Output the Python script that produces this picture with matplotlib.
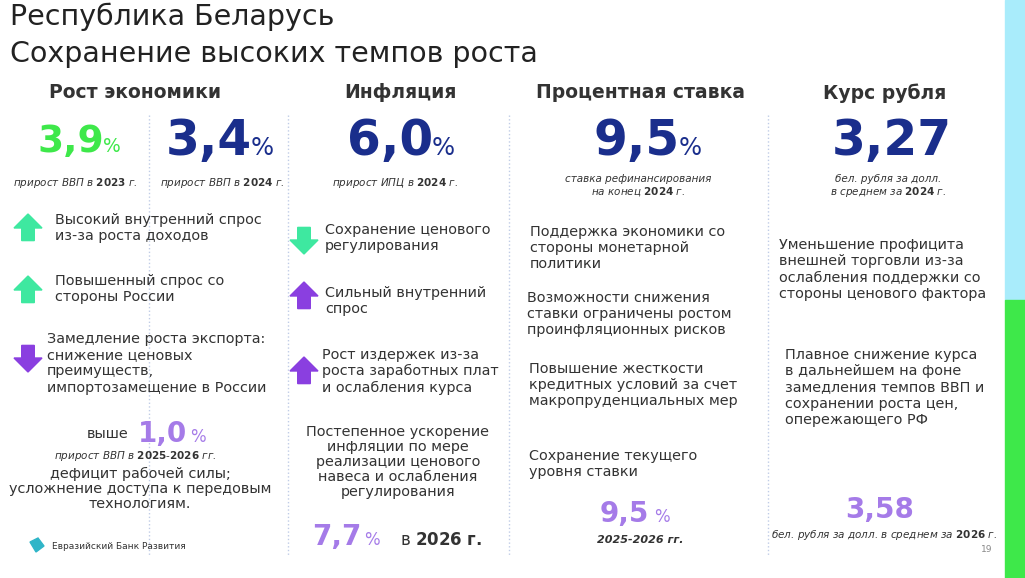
import matplotlib
matplotlib.use("Agg")
import matplotlib.pyplot as plt
from matplotlib.patches import Polygon, Rectangle
from matplotlib.lines import Line2D

W, H = 1025, 578
BLUE = "#1a2e8c"; GREEN = "#3ee84a"; PURPLE = "#a57be8"; ARROWP = "#8a3fe0"; GRAY = "#333333"
BS = 10.4

title_lines = ["Республика Беларусь", "Сохранение высоких темпов роста"]
headers = ["Рост экономики", "Инфляция", "Процентная ставка", "Курс рубля"]
gdp_growth = [3.9, 3.4]
gdp_years = ["2023", "2024"]
cpi_2024 = 6.0
rate_2024 = 9.5
usd_2024 = 3.27
gdp_2025_26 = 1.0
cpi_2026 = 7.7
rate_2025_26 = 9.5
usd_2026 = 3.58

fig = plt.figure(figsize=(W/100, H/100), dpi=100)
fig.patch.set_facecolor("white")

def T(x, y, s, size=BS, color=GRAY, ha="left", va="top", weight="normal", style="normal", ls=1.2):
    fig.text(x/W, 1-y/H, s, fontsize=size, color=color, ha=ha, va=va, weight=weight,
             style=style, linespacing=ls, family="DejaVu Sans")

def fmt(v, d=1):
    return f"{v:.{d}f}".replace(".", ",")

fig.add_artist(Rectangle((1005/W, 1-300/H), 20/W, 300/H, transform=fig.transFigure, color="#a9ecfb"))
fig.add_artist(Rectangle((1005/W, 0), 20/W, 278/H, transform=fig.transFigure, color=GREEN))

T(10, 3, title_lines[0], size=20.5, color="#222222")
T(10, 40, title_lines[1], size=20.5, color="#222222")

for x, h in zip([135, 400, 640, 885], headers):
    T(x, 83, h, size=13.5, color=GRAY, ha="center", weight="bold")

for x in [149, 288, 509, 768]:
    fig.add_artist(Line2D([x/W, x/W], [1-115/H, 1-555/H], transform=fig.transFigure,
                          color="#c0cce6", lw=1, ls=":"))

def big(x, y, v, unit, size, color, d=1):
    fig.text(x/W, 1-y/H, fmt(v, d), fontsize=size, color=color, ha="right", va="baseline", weight="bold")
    if unit:
        fig.text((x-1)/W, 1-y/H, unit, fontsize=size*0.5, color=color, ha="left", va="baseline")

big(104, 152, gdp_growth[0], "%", 27, GREEN)
big(252, 155, gdp_growth[1], "%", 35, BLUE)
big(433, 155, cpi_2024, "%", 35, BLUE)
big(680, 155, rate_2024, "%", 35, BLUE)
big(952, 155, usd_2024, None, 35, BLUE, d=2)

T(75, 176, f"прирост ВВП в $\\bf{{{gdp_years[0]}}}$ г.", size=7.5, ha="center", style="italic")
T(222, 176, f"прирост ВВП в $\\bf{{{gdp_years[1]}}}$ г.", size=7.5, ha="center", style="italic")
T(395, 176, "прирост ИПЦ в $\\bf{2024}$ г.", size=7.5, ha="center", style="italic")
T(638, 174, "ставка рефинансирования\nна конец $\\bf{2024}$ г.", size=7.5, ha="center", style="italic", ls=1.1)
T(888, 174, "бел. рубля за долл.\nв среднем за $\\bf{2024}$ г.", size=7.5, ha="center", style="italic", ls=1.1)

def arrow(cx, cy, up, color):
    s = 14
    if up:
        pts = [(cx, cy-s), (cx+s, cy), (cx+s*0.45, cy), (cx+s*0.45, cy+s*0.9),
               (cx-s*0.45, cy+s*0.9), (cx-s*0.45, cy), (cx-s, cy)]
    else:
        pts = [(cx, cy+s), (cx+s, cy), (cx+s*0.45, cy), (cx+s*0.45, cy-s*0.9),
               (cx-s*0.45, cy-s*0.9), (cx-s*0.45, cy), (cx-s, cy)]
    fig.add_artist(Polygon([(px/W, 1-py/H) for px, py in pts], closed=True,
                           transform=fig.transFigure, color=color))

arrow(28, 228, True, "#3ee8a0")
T(55, 213, "Высокий внутренний спрос\nиз-за роста доходов")
arrow(28, 290, True, "#3ee8a0")
T(55, 274, "Повышенный спрос со\nстороны России")
arrow(28, 358, False, ARROWP)
T(47, 332, "Замедление роста экспорта:\nснижение ценовых\nпреимуществ,\nимпортозамещение в России")
T(128, 427, "выше", ha="right")
fig.text(138/W, 1-442/H, fmt(gdp_2025_26), fontsize=20, color=PURPLE, weight="bold", va="baseline")
fig.text(190/W, 1-442/H, "%", fontsize=12, color=PURPLE, va="baseline")
T(135, 449, "прирост ВВП в $\\bf{2025\\text{-}2026}$ гг.", size=7.5, ha="center", style="italic")
T(140, 467, "дефицит рабочей силы;\nусложнение доступа к передовым\nтехнологиям.", ha="center", ls=1.1)

arrow(304, 240, False, "#3ee8a0")
T(325, 223, "Сохранение ценового\nрегулирования")
arrow(304, 296, True, ARROWP)
T(325, 286, "Сильный внутренний\nспрос")
arrow(304, 371, True, ARROWP)
T(322, 348, "Рост издержек из-за\nроста заработных плат\nи ослабления курса")
T(398, 425, "Постепенное ускорение\nинфляции по мере\nреализации ценового\nнавеса и ослабления\nрегулирования", ha="center", ls=1.1)
fig.text(312/W, 1-545/H, fmt(cpi_2026), fontsize=20, color=PURPLE, weight="bold", va="baseline")
fig.text(364/W, 1-545/H, "%", fontsize=12, color=PURPLE, va="baseline")
fig.text(400/W, 1-545/H, "в $\\bf{2026}$ $\\bf{г.}$", fontsize=12, color=GRAY, va="baseline")

T(530, 225, "Поддержка экономики со\nстороны монетарной\nполитики")
T(527, 291, "Возможности снижения\nставки ограничены ростом\nпроинфляционных рисков")
T(529, 362, "Повышение жесткости\nкредитных условий за счет\nмакропруденциальных мер")
T(529, 449, "Сохранение текущего\nуровня ставки")
fig.text(600/W, 1-522/H, fmt(rate_2025_26), fontsize=20, color=PURPLE, weight="bold", va="baseline")
fig.text(654/W, 1-522/H, "%", fontsize=12, color=PURPLE, va="baseline")
T(640, 535, "2025-2026 гг.", size=8, ha="center", style="italic", weight="bold")

T(779, 238, "Уменьшение профицита\nвнешней торговли из-за\nослабления поддержки со\nстороны ценового фактора")
T(785, 348, "Плавное снижение курса\nв дальнейшем на фоне\nзамедления темпов ВВП и\nсохранении роста цен,\nопережающего РФ")
fig.text(880/W, 1-518/H, fmt(usd_2026, 2), fontsize=20, color=PURPLE, weight="bold", va="baseline", ha="center")
T(884, 528, "бел. рубля за долл. в среднем за $\\bf{2026}$ г.", size=7.5, ha="center", style="italic")

fig.add_artist(Polygon([(30/W, 1-542/H), (38/W, 1-538/H), (44/W, 1-546/H), (36/W, 1-552/H)],
                       transform=fig.transFigure, color="#2fb5c8"))
T(52, 542, "Евразийский Банк Развития", size=6.5, color="#333333")
T(992, 545, "19", size=6.5, color="#888888", ha="right")

fig.savefig("out.png", dpi=100)
